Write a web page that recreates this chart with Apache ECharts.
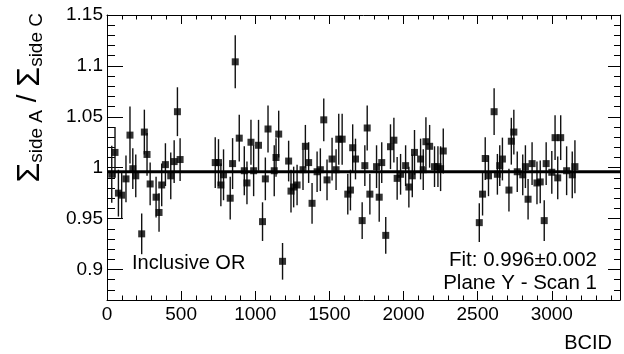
<!DOCTYPE html>
<html>
<head>
<meta charset="utf-8">
<script src="https://cdn.jsdelivr.net/npm/echarts@6/dist/echarts.min.js"></script>
<style>
html,body{margin:0;padding:0;background:#fff;}
#c{width:624px;height:354px;}
</style>
</head>
<body>
<div id="c"></div>
<script>
// ---- data ----
const bcid = [
  32, 54, 77, 99, 128, 155, 174, 194, 234, 252, 270, 291, 331, 351, 369, 394, 430, 453, 475, 493,
  730, 752, 768, 786, 831, 847, 865, 892, 926, 944, 971, 989, 1022, 1049, 1068, 1086, 1128, 1140, 1158,
  1184, 1225, 1241, 1259, 1282, 1322, 1338, 1360, 1383, 1417, 1439, 1462, 1484, 1518, 1545, 1563, 1586,
  1624, 1642, 1657, 1676, 1721, 1739, 1755, 1773, 1818, 1836, 1853, 1880, 1912, 1935, 1957, 1980,
  2014, 2036, 2059, 2074, 2115, 2133, 2151, 2176, 2209, 2232, 2250, 2268,
  2511, 2533, 2551, 2573, 2611, 2633, 2649, 2667, 2711, 2727, 2744, 2767, 2804, 2822, 2840, 2867,
  2900, 2922, 2949, 2962, 3000, 3022, 3040, 3060, 3100, 3138, 3156
];
const ratio = [
  0.9935, 1.015, 0.975, 0.973, 0.989, 1.032, 0.999, 0.992, 0.935, 1.035, 1.013, 0.984, 0.971, 0.956, 0.983, 1.003, 0.992, 1.006, 1.055, 1.008,
  1.005, 1.005, 0.983, 0.993, 0.970, 1.004, 1.104, 1.029, 0.997, 0.985, 1.025, 0.997, 1.022, 0.947, 0.989, 1.038, 0.997, 1.010, 1.033,
  0.908, 1.0065, 0.977, 0.981, 0.983, 0.998, 1.021, 1.005, 0.965, 0.996, 0.998, 1.047, 0.988, 1.0085, 0.998, 1.028, 1.028,
  0.974, 0.978, 1.0196, 1.0085, 0.948, 1.002, 1.039, 0.974, 1.001, 0.971, 1.005, 0.9335, 1.0206, 1.027, 0.9895, 0.9935,
  1.002, 0.981, 0.992, 1.015, 1.0085, 0.998, 1.0255, 1.021, 1.001, 1.001, 0.999, 1.0164,
  0.946, 0.974, 1.009, 0.992, 1.055, 0.9935, 1.002, 1.0085, 0.978, 1.026, 1.035, 0.996, 0.993, 1.001, 0.969, 1.004,
  0.985, 0.986, 0.948, 1.004, 0.9955, 1.0295, 0.990, 1.0295, 0.997, 0.993, 1.001
];
const ratioErr = [
  0.028, 0.025, 0.023, 0.023, 0.023, 0.028, 0.020, 0.021, 0.020, 0.022, 0.021, 0.021, 0.020, 0.019, 0.021, 0.021, 0.023, 0.021, 0.024, 0.021,
  0.025, 0.023, 0.021, 0.025, 0.021, 0.025, 0.026, 0.023, 0.024, 0.021, 0.022, 0.025, 0.025, 0.019, 0.021, 0.023, 0.025, 0.019, 0.023,
  0.018, 0.020, 0.021, 0.020, 0.020, 0.020, 0.021, 0.020, 0.020, 0.020, 0.021, 0.021, 0.020, 0.021, 0.020, 0.025, 0.025,
  0.020, 0.020, 0.023, 0.020, 0.018, 0.020, 0.022, 0.020, 0.021, 0.024, 0.020, 0.018, 0.022, 0.022, 0.021, 0.020,
  0.020, 0.020, 0.021, 0.022, 0.020, 0.020, 0.024, 0.021, 0.020, 0.020, 0.022, 0.022,
  0.019, 0.021, 0.021, 0.020, 0.023, 0.020, 0.020, 0.021, 0.021, 0.023, 0.022, 0.020, 0.020, 0.021, 0.020, 0.021,
  0.021, 0.021, 0.020, 0.021, 0.021, 0.022, 0.021, 0.022, 0.024, 0.023, 0.026
];
const fitValue = 0.996;
const xRange = [0, 3460];
const yRange = [0.87, 1.15];
const xMajorTicks = [0, 500, 1000, 1500, 2000, 2500, 3000];
const yMajorTicks = [0.9, 0.95, 1, 1.05, 1.1, 1.15];
const xMinorStep = 100;
const yMinorStep = 0.01;
const labelInclusive = 'Inclusive OR';
const labelFit = 'Fit: 0.996\u00b10.002';
const labelPlane = 'Plane Y - Scan 1';
const xTitle = 'BCID';

// ---- build ----
const xMinor = [];
for (let v = xRange[0]; v <= xRange[1]; v += xMinorStep) xMinor.push(v);
const yMinor = [];
for (let k = 0; ; k++) { const v = Math.round((yRange[0] + k * yMinorStep) * 1000) / 1000; if (v > yRange[1] + 1e-9) break; yMinor.push(v); }

const pts = bcid.map((b, i) => [b, ratio[i], ratioErr[i]]);
const FONT = '"Liberation Sans", Arial, Helvetica, sans-serif';
const BLACK = '#000';

function xAx(pos, ticks, len, showLine, showLabel) {
  return {
    type: 'value', position: pos, min: xRange[0], max: xRange[1],
    axisLine: { show: showLine, onZero: false, lineStyle: { color: BLACK, width: 1 } },
    axisTick: { show: true, inside: true, length: len, customValues: ticks, lineStyle: { color: BLACK, width: 1 } },
    axisLabel: { show: showLabel, customValues: ticks, fontFamily: FONT, fontSize: 19, color: BLACK, margin: 5,
                 formatter: v => String(v) },
    splitLine: { show: false }
  };
}
function yAx(pos, ticks, len, showLine, showLabel) {
  return {
    type: 'value', position: pos, min: yRange[0], max: yRange[1],
    axisLine: { show: showLine, onZero: false, lineStyle: { color: BLACK, width: 1 } },
    axisTick: { show: true, inside: true, length: len, customValues: ticks, lineStyle: { color: BLACK, width: 1 } },
    axisLabel: { show: showLabel, customValues: ticks, fontFamily: FONT, fontSize: 19, color: BLACK, margin: 4,
                 formatter: v => String(v) },
    splitLine: { show: false }
  };
}

const chart = echarts.init(document.getElementById('c'), null, { renderer: 'canvas' });
chart.setOption({
  animation: false,
  backgroundColor: '#fff',
  grid: { left: 107, right: 4, top: 15, bottom: 54, containLabel: false },
  xAxis: [
    xAx('bottom', xMajorTicks, 9, true, true),
    xAx('bottom', xMinor, 4.5, false, false),
    xAx('top', xMajorTicks, 9, true, false),
    xAx('top', xMinor, 4.5, false, false)
  ],
  yAxis: [
    yAx('left', yMajorTicks, 16, true, true),
    yAx('left', yMinor, 8, false, false),
    yAx('right', yMajorTicks, 12, true, false),
    yAx('right', yMinor, 6, false, false)
  ],
  series: [
    {
      type: 'custom', xAxisIndex: 0, yAxisIndex: 0, data: pts, clip: true,
      renderItem: function (params, api) {
        const x = api.value(0), y = api.value(1), e = api.value(2);
        const p1 = api.coord([x, y - e]);
        const p2 = api.coord([x, y + e]);
        return { type: 'line', shape: { x1: p1[0], y1: p1[1], x2: p2[0], y2: p2[1] },
                 style: { stroke: '#111', lineWidth: 1.4 } };
      },
      z: 2
    },
    {
      type: 'scatter', xAxisIndex: 0, yAxisIndex: 0, data: pts.map(p => [p[0], p[1]]),
      symbol: 'rect', symbolSize: 7, itemStyle: { color: BLACK }, z: 3
    },
    {
      type: 'line', xAxisIndex: 0, yAxisIndex: 0, data: [[xRange[0], fitValue], [xRange[1], fitValue]],
      symbol: 'none', lineStyle: { color: BLACK, width: 3 }, z: 4
    }
  ],
  graphic: [
    { type: 'text', left: 132, top: 253, style: { text: labelInclusive, font: '20px ' + FONT, fill: BLACK } },
    { type: 'text', x: 597, y: 260, style: { text: labelFit, font: '20.5px ' + FONT, fill: BLACK, align: 'right', verticalAlign: 'middle' } },
    { type: 'text', x: 597, y: 283, style: { text: labelPlane, font: '20.5px ' + FONT, fill: BLACK, align: 'right', verticalAlign: 'middle' } },
    { type: 'text', x: 612, y: 343, style: { text: xTitle, font: '20px ' + FONT, fill: BLACK, align: 'right', verticalAlign: 'middle' } },
    {
      type: 'text', x: 30, y: 13, rotation: Math.PI / 2,
      style: {
        text: '{S|\u03a3}{b|side A}{L| / }{S|\u03a3}{b|side C}',
        align: 'right', verticalAlign: 'middle', fill: BLACK,
        rich: {
          S: { fontFamily: FONT, fontSize: 32, fill: BLACK, verticalAlign: 'top', lineHeight: 32 },
          L: { fontFamily: FONT, fontSize: 28, fill: BLACK, verticalAlign: 'top', lineHeight: 32 },
          b: { fontFamily: FONT, fontSize: 19, fill: BLACK, verticalAlign: 'bottom', lineHeight: 19, padding: [20, 0, 0, 0] }
        }
      }
    }
  ]
});
</script>
</body>
</html>
